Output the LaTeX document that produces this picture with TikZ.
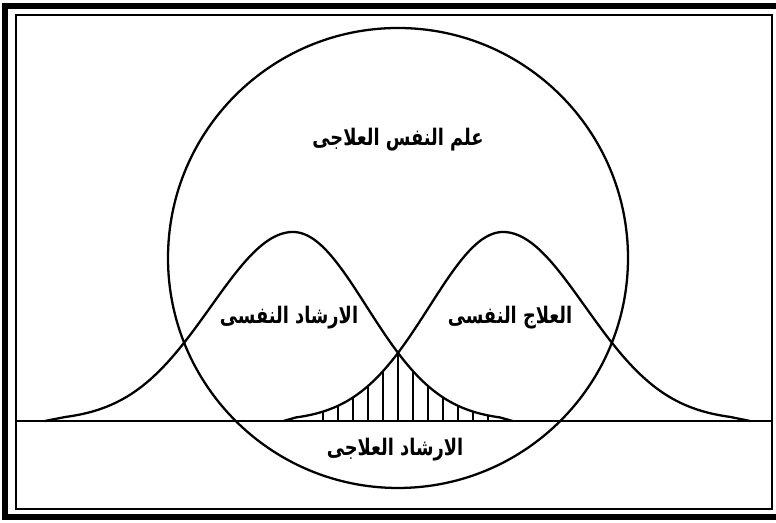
\documentclass[tikz,border=0pt]{standalone}
\usepackage{fontspec}
\newfontfamily\arabicfont[Script=Arabic, FakeStretch=0.78]{DejaVu Sans}
\TeXXeTstate=1
\usepackage{tikz}
\usetikzlibrary{positioning}

\begin{document}
\begin{tikzpicture}[
    curve/.style={line width=1.3pt, line join=round},
    frame/.style={line width=1pt},
    border/.style={line width=3pt},
    hatchline/.style={line width=1.2pt},
    lbl/.style={font=\arabicfont\bfseries\fontsize{13}{15}\selectfont, inner sep=1pt},
    declare function={bell(\x,\c,\s)=3.78*exp(-0.5*((\x-\c)/\s)^2);},
]
\useasboundingbox (0,0) rectangle (15.52,10.46);

% --- Frame ---
\draw[border] (15.52,10.34) -- (0.10,10.34) -- (0.10,0.12) -- (15.52,0.12);
\draw[frame] (0.32,0.28) rectangle (15.44,10.16);

% --- Base line and circle ---
\draw[frame] (0.32,2.04) -- (15.44,2.04);
\draw[curve] (7.96,5.30) circle (4.6);

% --- Bells ---
\draw[curve] (0.9,2.04) -- plot[domain=1.3:5.86, samples=60, smooth] (\x,{2.04+bell(\x,5.86,1.64)})
    -- plot[domain=5.86:10.0, samples=60, smooth] (\x,{2.04+bell(\x,5.86,1.47)}) -- (10.25,2.04);
\draw[curve] (5.67,2.04) -- plot[domain=5.92:10.06, samples=60, smooth] (\x,{2.04+bell(\x,10.06,1.47)})
    -- plot[domain=10.06:14.6, samples=60, smooth] (\x,{2.04+bell(\x,10.06,1.64)}) -- (15.0,2.04);

% --- Hatching under both bells ---
\foreach \k in {-5,...,6} {
    \pgfmathsetmacro{\hx}{7.96+0.3*\k}
    \draw[hatchline] (\hx,2.04) -- (\hx,{2.04+min(bell(\hx,5.86,1.47),bell(\hx,10.06,1.47))});
}

% --- Labels ---
\node[lbl] (clinical) at (7.96,7.66) {\beginR علم النفس العلاجى\endR};
\node[lbl] (counsel) at (5.78,4.10) {\beginR الارشاد النفسى\endR};
\node[lbl] (therapy) at (10.20,4.10) {\beginR العلاج النفسى\endR};
\node[lbl] (thercounsel) at (7.90,1.46) {\beginR الارشاد العلاجى\endR};
\end{tikzpicture}
\end{document}
